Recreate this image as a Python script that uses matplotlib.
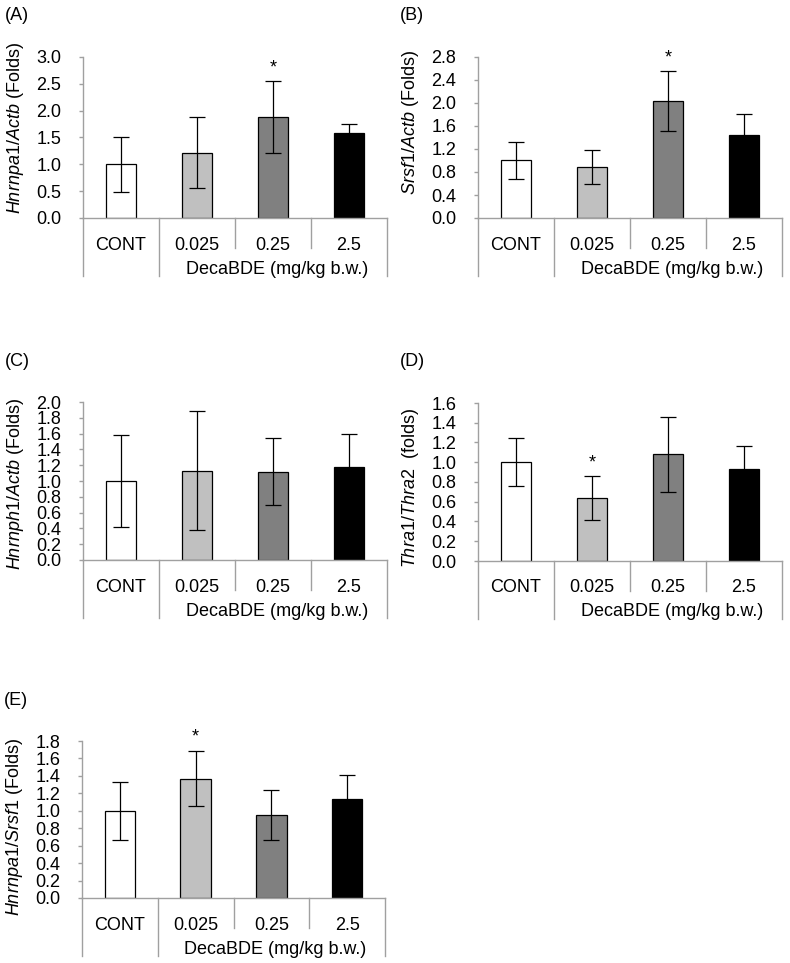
import matplotlib
matplotlib.use("Agg")
import matplotlib.pyplot as plt

plt.rcParams['font.family'] = ['Liberation Sans', 'DejaVu Sans']
plt.rcParams['mathtext.fontset'] = 'custom'
plt.rcParams['mathtext.rm'] = 'Liberation Sans'
plt.rcParams['mathtext.it'] = 'Liberation Sans:italic'

groups = ["CONT", "0.025", "0.25", "2.5"]
bar_colors = ["#ffffff", "#c0c0c0", "#808080", "#000000"]
dose_label = "DecaBDE (mg/kg b.w.)"

# panel values (mean, error)
a_mean = [1.00, 1.22, 1.88, 1.59]
a_err = [0.51, 0.67, 0.67, 0.16]
b_mean = [1.00, 0.89, 2.03, 1.44]
b_err = [0.33, 0.30, 0.52, 0.37]
c_mean = [1.00, 1.13, 1.12, 1.18]
c_err = [0.58, 0.75, 0.43, 0.41]
d_mean = [1.00, 0.64, 1.08, 0.93]
d_err = [0.245, 0.22, 0.38, 0.23]
e_mean = [1.00, 1.37, 0.95, 1.14]
e_err = [0.33, 0.32, 0.29, 0.27]

panels = [
    ("(A)", a_mean, a_err, r"$\mathit{Hnrnpa1/Actb}$ (Folds)", 3.0, 0.5, [2]),
    ("(B)", b_mean, b_err, r"$\mathit{Srsf1/Actb}$ (Folds)", 2.8, 0.4, [2]),
    ("(C)", c_mean, c_err, r"$\mathit{Hnrnph1/Actb}$ (Folds)", 2.0, 0.2, []),
    ("(D)", d_mean, d_err, r"$\mathit{Thra1/Thra2}$  (folds)", 1.6, 0.2, [1]),
    ("(E)", e_mean, e_err, r"$\mathit{Hnrnpa1/Srsf1}$ (Folds)", 1.8, 0.2, [1]),
]

# axes rectangles in figure pixels: left, right, top, bottom
boxes = [
    (83, 387, 57, 218),
    (478, 782, 57, 218),
    (83, 387, 402, 560),
    (478, 782, 403, 561),
    (82, 385, 741, 898),
]
ylab_y = [0.56, 0.59, 0.48, 0.46, 0.45]

W, H = 790, 963
fig = plt.figure(figsize=(W / 100, H / 100), dpi=100)
axis_gray = "#a0a0a0"
fs = 13

for (tag, mean, err, ylab, ymax, step, stars), (l, r, t, b), ly in zip(panels, boxes, ylab_y):
    ax = fig.add_axes([l / W, 1 - b / H, (r - l) / W, (b - t) / H])
    x = range(len(groups))
    ax.bar(x, mean, width=0.40, color=bar_colors, edgecolor="black", linewidth=0.9, zorder=2)
    ax.errorbar(x, mean, yerr=err, fmt="none", ecolor="black", elinewidth=0.9,
                capsize=5.5, capthick=0.9, zorder=3)
    for s in stars:
        ax.text(s, mean[s] + err[s] + 0.03 * ymax, "*", ha="center", va="bottom",
                fontsize=fs, clip_on=False)
    ax.set_xlim(-0.5, 3.5)
    ax.set_ylim(0, ymax)
    n = int(round(ymax / step))
    ticks = [i * step for i in range(n + 1)]
    ax.set_yticks(ticks)
    ax.set_yticklabels([f"{v:.1f}" for v in ticks], fontsize=fs)
    ax.set_xticks([])
    for side in ["top", "right"]:
        ax.spines[side].set_visible(False)
    for side in ["left", "bottom"]:
        ax.spines[side].set_color(axis_gray)
        ax.spines[side].set_linewidth(1.0)
    ax.tick_params(axis="y", color=axis_gray, length=3.2, width=1.0, pad=12.5)

    hpx = b - t
    short = -30 / hpx
    long_ = -58 / hpx
    tr = ax.get_xaxis_transform()
    for xb, depth in zip([-0.5, 0.5, 1.5, 2.5, 3.5], [long_, long_, short, short, long_]):
        ax.plot([xb, xb], [0, depth], transform=tr, color=axis_gray, lw=1.0, clip_on=False)
    for i, g in enumerate(groups):
        ax.text(i, -27 / hpx, g, transform=tr, ha="center", va="center", fontsize=fs)
    ax.text(2.05, -51 / hpx, dose_label, transform=tr, ha="center", va="center", fontsize=fs)

    ax.set_ylabel(ylab, fontsize=fs)
    ax.yaxis.set_label_coords(-57 / (r - l), ly)
    fig.text((l - 78) / W, 1 - (t - 41) / H, tag, ha="left", va="center", fontsize=fs)

fig.savefig("out.png", dpi=100)
